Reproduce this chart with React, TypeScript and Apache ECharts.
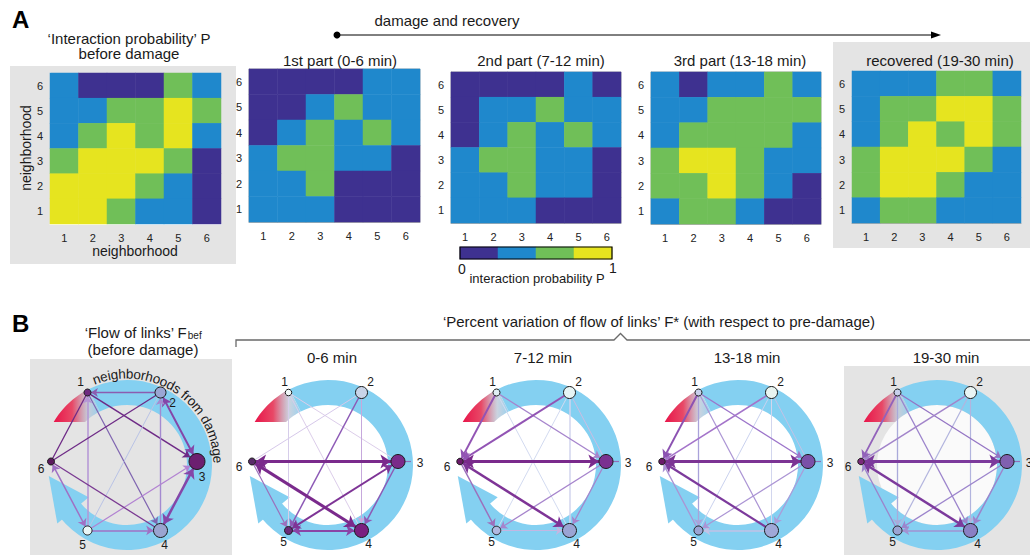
import React, { useEffect, useRef } from 'react';
import * as echarts from 'echarts';

const FONT = '"Liberation Sans", Arial, Helvetica, sans-serif';
const LEVEL_COLORS = ['#3e3190', '#1f88cc', '#70bf58', '#e6e41f'];
const CYAN = '#84d0f1';
const GRAY = '#e4e4e4';

const tickLabels = ['1', '2', '3', '4', '5', '6'];

// interaction probability levels (0..3), rows listed from neighborhood 6 (top) to 1 (bottom)
const pBefore = [
  [1, 0, 0, 0, 2, 1],
  [1, 1, 2, 2, 3, 2],
  [1, 2, 3, 2, 3, 1],
  [2, 3, 3, 3, 2, 0],
  [3, 3, 3, 2, 1, 0],
  [3, 3, 2, 1, 1, 0],
];
const p1st = [
  [0, 0, 0, 0, 1, 1],
  [0, 0, 1, 2, 1, 1],
  [0, 1, 2, 1, 2, 1],
  [1, 2, 2, 1, 1, 0],
  [1, 1, 2, 0, 0, 0],
  [1, 1, 1, 0, 0, 0],
];
const p2nd = [
  [0, 0, 0, 0, 1, 0],
  [0, 1, 1, 2, 1, 1],
  [0, 1, 2, 1, 2, 1],
  [1, 2, 2, 1, 1, 0],
  [1, 1, 2, 1, 1, 0],
  [1, 1, 1, 0, 0, 0],
];
const p3rd = [
  [1, 0, 1, 1, 2, 1],
  [1, 1, 2, 2, 2, 2],
  [1, 2, 2, 2, 2, 1],
  [2, 3, 3, 2, 1, 1],
  [2, 2, 3, 2, 1, 0],
  [1, 2, 2, 1, 0, 0],
];
const pRecovered = [
  [1, 1, 1, 2, 2, 1],
  [1, 2, 2, 3, 3, 2],
  [1, 2, 3, 2, 3, 2],
  [2, 3, 3, 3, 2, 1],
  [2, 3, 3, 2, 1, 1],
  [1, 2, 2, 1, 1, 1],
];
const heatMatrices = [pBefore, p1st, p2nd, p3rd, pRecovered];
const heatTitles = ['', '1st part (0-6 min)', '2nd part (7-12 min)', '3rd part (13-18 min)', 'recovered (19-30 min)'];
const colorbarLevels = [0, 1, 2, 3];

// networks
const nodeNames = ['1', '2', '3', '4', '5', '6'];
const nodeX = [-0.5, 0.5, 1, 0.5, -0.5, -1];
const nodeY = [0.945, 0.945, 0, -0.945, -0.945, 0];
const netTitles = ['', '0-6 min', '7-12 min', '13-18 min', '19-30 min'];

const nodeSizes = [
  [7, 11, 16, 14, 9, 7],
  [6.5, 12, 14, 14, 8, 7],
  [7, 12, 14, 14, 8.5, 6.5],
  [7, 12, 14, 14, 9, 6.5],
  [7, 12, 14, 14, 9, 6.5],
];
const nodeColors = [
  ['#6e2a80', '#9aa6d4', '#6c1f70', '#9aa4d0', '#e8f6f6', '#5c1a5e'],
  ['#f0f8f8', '#c8d4e8', '#7a2a8a', '#7a2080', '#6a2a7a', '#5a2a6a'],
  ['#e0eef4', '#e6f4f4', '#7a3090', '#9aa4d4', '#b0b8e0', '#6a1a6a'],
  ['#c8d0ec', '#e8f4f0', '#7a50a8', '#a0a8d8', '#9aa4d4', '#6a1a6a'],
  ['#c8d0ec', '#e8f4f4', '#8060b0', '#8a80c4', '#9aa4d4', '#7a2a7a'],
];

// [source, target, width, colour, arrows: 0 none, 1 at target, 2 both]
type Edge = [number, number, number, string, number];
const edgesBefore: Edge[] = [
  [2, 1, 1.3, '#8c5cb0', 1],
  [1, 3, 1.5, '#6e2a86', 1],
  [1, 4, 1.2, '#7f64b0', 1],
  [5, 1, 1.5, '#b596d6', 1],
  [6, 1, 1.3, '#6e2a86', 0],
  [2, 3, 2, '#8546a8', 2],
  [4, 2, 1.4, '#a48ad0', 1],
  [5, 2, 1, '#b9c3e6', 0],
  [6, 2, 1.3, '#6e2a86', 0],
  [3, 4, 2.5, '#8546a8', 2],
  [5, 3, 1.2, '#b282d2', 1],
  [6, 4, 1.3, '#7a3a92', 0],
  [5, 4, 1.5, '#a070c4', 1],
  [6, 5, 1.5, '#a070c4', 2],
];
const edges0to6: Edge[] = [
  [2, 6, 1, '#d6c8ea', 0],
  [1, 3, 1, '#dccdea', 0],
  [1, 4, 1, '#dccdea', 0],
  [1, 5, 1, '#d6cdea', 0],
  [2, 4, 1, '#c6a8dc', 1],
  [6, 5, 1.2, '#9c70bc', 1],
  [2, 5, 1.5, '#8d5ab6', 1],
  [3, 4, 1.5, '#8d5ab6', 1],
  [5, 4, 2, '#8a44a6', 2],
  [3, 5, 2, '#7e3496', 2],
  [6, 4, 3, '#7a2a8c', 2],
  [6, 3, 3, '#7a2a8c', 2],
];
const edges7to12: Edge[] = [
  [2, 4, 1.5, '#d2d4ee', 0],
  [2, 5, 1, '#d2daf0', 0],
  [1, 4, 1, '#d2daf0', 0],
  [2, 3, 1, '#cbbde2', 0],
  [5, 4, 1.2, '#c4b6e2', 1],
  [1, 3, 1.3, '#a684cc', 1],
  [3, 5, 1.3, '#a684cc', 1],
  [3, 4, 1.3, '#a684cc', 1],
  [6, 5, 1.5, '#9c70bc', 1],
  [2, 6, 2, '#9254b4', 1],
  [1, 6, 2, '#9254b4', 1],
  [6, 4, 2.5, '#7e3496', 2],
  [6, 3, 3, '#7a2a8c', 2],
];
const edges13to18: Edge[] = [
  [2, 5, 1, '#c9d1ee', 0],
  [2, 4, 1, '#d2d6ee', 0],
  [2, 3, 1, '#c2c2e6', 0],
  [4, 5, 1.5, '#c2c2e6', 1],
  [1, 4, 1.2, '#ab94d4', 0],
  [1, 5, 1.3, '#aaa2da', 1],
  [3, 5, 1.2, '#ab94d4', 1],
  [3, 4, 1.3, '#aa9cda', 1],
  [5, 6, 1.3, '#ab94d4', 1],
  [1, 3, 1.3, '#9c74ca', 1],
  [2, 6, 1.5, '#a474ca', 1],
  [1, 6, 2, '#8c52b2', 1],
  [4, 6, 2.2, '#7c3a9c', 1],
  [6, 3, 3, '#7c3494', 2],
];
const edges19to30: Edge[] = [
  [2, 5, 1.2, '#b2b4de', 0],
  [2, 4, 1.2, '#b2b4de', 1],
  [1, 5, 1.3, '#aaaada', 1],
  [4, 5, 1.5, '#a292d2', 1],
  [3, 5, 1.3, '#9c84cc', 1],
  [3, 4, 1.5, '#9c84cc', 1],
  [5, 6, 1.3, '#9c84cc', 1],
  [1, 3, 1.3, '#9474c4', 1],
  [1, 4, 1.3, '#9c84cc', 1],
  [2, 6, 1.5, '#a284ca', 1],
  [1, 6, 1.8, '#9262ba', 1],
  [6, 4, 2.5, '#7c3a9c', 2],
  [6, 3, 3, '#7c3a9c', 2],
];
const netEdges = [edgesBefore, edges0to6, edges7to12, edges13to18, edges19to30];

// layout (positions only)
const HEAT_GRIDS = [
  { left: 50, top: 73, width: 171, height: 151 },
  { left: 249, top: 69, width: 171, height: 153 },
  { left: 451, top: 72, width: 170, height: 151 },
  { left: 651, top: 72, width: 170, height: 152 },
  { left: 852, top: 71, width: 169, height: 152 },
];
const HEAT_TITLE_X = [129, 340, 541, 740, 940];
const NET_CX = [124, 325, 533, 735, 934];
const NET_CY = 461.5;
const NET_HALF = 73;
const NET_TITLE_X = [143, 332, 543, 747, 946];
const LABEL_OFF_FIRST = [[-7, -11], [12, 10], [5, 15], [4, 15], [-5, 15], [-10, 7]];
const LABEL_OFF = [[-4, -11], [9, -11], [22, 1], [7, 14], [-5, 12], [-13, 5]];

const deg = Math.PI / 180;

function toCells(rows: number[][]) {
  const out: number[][] = [];
  rows.forEach((row, r) => row.forEach((v, c) => out.push([c, 5 - r, v])));
  return out;
}

let measureCtx: CanvasRenderingContext2D | null = null;
function textWidth(s: string, size: number) {
  if (!measureCtx) measureCtx = document.createElement('canvas').getContext('2d');
  measureCtx!.font = `${size}px ${FONT}`;
  return measureCtx!.measureText(s).width;
}

function txt(text: string, x: number, y: number, size: number, extra: any = {}) {
  return {
    type: 'text',
    x,
    y,
    z: 20,
    silent: true,
    ...(extra.rotation !== undefined ? { rotation: extra.rotation } : {}),
    style: {
      text,
      fontSize: size,
      fontFamily: FONT,
      fontWeight: extra.fontWeight || 'normal',
      fill: extra.fill || '#1a1a1a',
      align: extra.align || 'center',
      verticalAlign: extra.verticalAlign || 'middle',
    },
  };
}

function bandElements(cx: number, cy: number, innerFill: string | null) {
  const R = 85;
  const r0 = 60;
  const pt = (r: number, a: number) => [cx + r * Math.cos(a * deg), cy + r * Math.sin(a * deg)];
  const els: any[] = [];
  if (innerFill) els.push({ type: 'circle', z: 1, silent: true, shape: { cx, cy, r: r0 }, style: { fill: innerFill } });
  els.push({
    type: 'sector',
    z: 2,
    silent: true,
    shape: { cx, cy, r0, r: R, startAngle: -117 * deg, endAngle: 141 * deg, clockwise: true },
    style: { fill: CYAN },
  });
  els.push({
    type: 'polygon',
    z: 2,
    silent: true,
    shape: { points: [pt(91, 140), pt(79, 172), pt(50, 140)] },
    style: { fill: CYAN },
  });
  const cut = 43;
  const aOut = Math.atan2(-cut, -Math.sqrt(R * R - cut * cut)) / deg;
  const aIn = Math.atan2(-cut, -Math.sqrt(r0 * r0 - cut * cut)) / deg;
  const pts: number[][] = [];
  for (let a = aOut; a < -117; a += 2) pts.push(pt(R, a));
  pts.push(pt(R, -117));
  for (let a = -117; a > aIn; a -= 2) pts.push(pt(r0, a));
  pts.push(pt(r0, aIn));
  els.push({
    type: 'polygon',
    z: 2,
    silent: true,
    shape: { points: pts },
    style: {
      fill: new echarts.graphic.LinearGradient(0, 0, 1, 0, [
        { offset: 0, color: '#e8154a' },
        { offset: 0.4, color: '#e84866' },
        { offset: 0.75, color: 'rgba(190,200,215,0.8)' },
        { offset: 1, color: 'rgba(140,205,238,0.9)' },
      ]),
    },
  });
  return els;
}

function curvedText(text: string, cx: number, cy: number, r: number, startA: number, endA: number, size: number) {
  const chars = Array.from(text);
  const widths = chars.map((ch) => textWidth(ch, size));
  const total = widths.reduce((a, b) => a + b, 0);
  const scale = ((endA - startA) * deg * r) / total;
  let a = startA * deg;
  const els: any[] = [];
  chars.forEach((ch, i) => {
    const w = widths[i] * scale;
    const ac = a + w / (2 * r);
    a += w / r;
    if (ch === ' ') return;
    els.push({
      type: 'text',
      x: cx + r * Math.cos(ac),
      y: cy + r * Math.sin(ac),
      rotation: -(ac + Math.PI / 2),
      z: 20,
      silent: true,
      style: { text: ch, fontSize: size, fontFamily: FONT, fill: '#1a1a1a', align: 'center', verticalAlign: 'middle' },
    });
  });
  return els;
}

function buildOption() {
  const grid: any[] = [];
  const xAxis: any[] = [];
  const yAxis: any[] = [];
  const series: any[] = [];
  const graphic: any[] = [];

  // background panels
  graphic.push({ type: 'rect', z: 0, silent: true, shape: { x: 10, y: 66, width: 226, height: 198 }, style: { fill: GRAY } });
  graphic.push({ type: 'rect', z: 0, silent: true, shape: { x: 833, y: 42, width: 197, height: 206 }, style: { fill: GRAY } });
  graphic.push({ type: 'rect', z: 0, silent: true, shape: { x: 30, y: 359, width: 202, height: 196 }, style: { fill: GRAY } });
  graphic.push({ type: 'rect', z: 0, silent: true, shape: { x: 844, y: 366, width: 186, height: 189 }, style: { fill: GRAY } });

  // heatmaps
  HEAT_GRIDS.forEach((g, i) => {
    grid.push({ ...g, show: true, borderColor: i === 0 ? '#ffffff' : '#b0b0b0', borderWidth: 1, backgroundColor: 'transparent' });
    const axisCommon = {
      type: 'category',
      gridIndex: i,
      data: tickLabels,
      axisTick: { show: true, inside: true, alignWithLabel: true, length: 3, lineStyle: { color: '#555', width: 0.8 } },
      axisLine: { show: true, lineStyle: { color: i === 0 ? '#ffffff' : '#b0b0b0', width: 1 } },
      splitLine: { show: false },
    };
    xAxis.push({ ...axisCommon, axisLabel: { fontSize: 11, color: '#222', margin: 8, fontFamily: FONT } });
    yAxis.push({ ...axisCommon, axisLabel: { fontSize: 11, color: '#222', margin: 7, fontFamily: FONT } });
    series.push({
      type: 'heatmap',
      xAxisIndex: i,
      yAxisIndex: i,
      data: toCells(heatMatrices[i]),
      itemStyle: { borderWidth: 0 },
      emphasis: { disabled: true },
      silent: true,
    });
    if (heatTitles[i]) graphic.push(txt(heatTitles[i], HEAT_TITLE_X[i], 60, 15));
  });

  // colour bar
  grid.push({ left: 460, top: 247, width: 152, height: 12, show: false });
  xAxis.push({ type: 'category', gridIndex: 5, data: colorbarLevels.map(String), show: false });
  yAxis.push({ type: 'category', gridIndex: 5, data: ['0'], show: false });
  series.push({
    type: 'heatmap',
    xAxisIndex: 5,
    yAxisIndex: 5,
    data: colorbarLevels.map((v, i) => [i, 0, v]),
    itemStyle: { borderWidth: 0 },
    emphasis: { disabled: true },
    silent: true,
  });
  graphic.push({ type: 'rect', z: 30, silent: true, shape: { x: 460, y: 247, width: 152, height: 12 }, style: { fill: 'none', stroke: '#000', lineWidth: 1.2 } });
  graphic.push(txt('0', 462, 269, 14));
  graphic.push(txt('1', 613, 268, 14));
  graphic.push(txt('interaction probability P', 537, 278, 13));

  // networks
  netEdges.forEach((edges, k) => {
    const gi = 6 + k;
    const cx = NET_CX[k];
    grid.push({ left: cx - NET_HALF, top: NET_CY - NET_HALF, width: NET_HALF * 2, height: NET_HALF * 2, show: false });
    xAxis.push({ type: 'value', gridIndex: gi, min: -1, max: 1, show: false });
    yAxis.push({ type: 'value', gridIndex: gi, min: -1, max: 1, show: false });
    const offs = k === 0 ? LABEL_OFF_FIRST : LABEL_OFF;
    series.push({
      type: 'graph',
      coordinateSystem: 'cartesian2d',
      xAxisIndex: gi,
      yAxisIndex: gi,
      z: 5,
      silent: true,
      emphasis: { disabled: true },
      data: nodeNames.map((n, i) => ({
        name: n,
        value: [nodeX[i], nodeY[i]],
        symbol: 'circle',
        symbolSize: nodeSizes[k][i],
        itemStyle: { color: nodeColors[k][i], borderColor: '#1a1a1a', borderWidth: 1 },
        label: { show: true, position: 'inside', offset: offs[i], color: '#1a1a1a', fontSize: 12, fontFamily: FONT },
      })),
      links: edges.map(([s, t, w, c, m]) => ({
        source: String(s),
        target: String(t),
        symbol: m === 2 ? ['arrow', 'arrow'] : m === 1 ? ['none', 'arrow'] : ['none', 'none'],
        symbolSize: 4 + w * 2.2,
        lineStyle: { width: w, color: c, opacity: 1, curveness: 0 },
      })),
      lineStyle: { opacity: 1 },
    });
    const bx = cx + 3;
    const by = NET_CY + 3.5;
    graphic.push(...bandElements(bx, by, k === 4 ? 'rgba(255,255,255,0.8)' : null));
    if (k > 0) {
      graphic.push({
        type: 'line',
        z: 3,
        silent: true,
        shape: { x1: cx + NET_HALF + 6, y1: NET_CY, x2: cx + NET_HALF + 13, y2: NET_CY },
        style: { stroke: '#9070b8', lineWidth: 1.2 },
      });
      graphic.push(txt(netTitles[k], NET_TITLE_X[k], 357, 15));
    }
    if (k === 0) {
      graphic.push(...curvedText('neighborhoods from damage', bx, by, 91, -112, -1, 13.5));
    }
  });

  // panel letters and headers
  graphic.push(txt('A', 12, 19, 24, { fontWeight: 'bold', align: 'left', fill: '#000' }));
  graphic.push(txt('B', 12, 323, 24, { fontWeight: 'bold', align: 'left', fill: '#000' }));
  graphic.push(txt('\u2018Interaction probability\u2019 P', 129, 38.5, 15));
  graphic.push(txt('before damage', 129, 53.5, 15));
  graphic.push(txt('neighborhood', 135, 251, 14));
  graphic.push(txt('neighborhood', 26, 148, 14, { rotation: Math.PI / 2 }));

  // damage and recovery arrow
  graphic.push(txt('damage and recovery', 447, 20, 15));
  graphic.push({ type: 'circle', z: 10, silent: true, shape: { cx: 337, cy: 35, r: 3.5 }, style: { fill: '#000' } });
  graphic.push({ type: 'line', z: 10, silent: true, shape: { x1: 337, y1: 35, x2: 934, y2: 35 }, style: { stroke: '#000', lineWidth: 1 } });
  graphic.push({ type: 'polygon', z: 10, silent: true, shape: { points: [[941, 35], [931, 31.5], [931, 38.5]] }, style: { fill: '#000' } });

  // B headers
  const fMain = '\u2018Flow of links\u2019 F';
  const wMain = textWidth(fMain, 15);
  const wSub = textWidth('bef', 10);
  const fStart = 143 - (wMain + wSub) / 2;
  graphic.push(txt(fMain, fStart, 332, 15, { align: 'left' }));
  graphic.push(txt('bef', fStart + wMain + 0.5, 335.5, 10, { align: 'left' }));
  graphic.push(txt('(before damage)', 143, 349, 15));
  graphic.push(txt('\u2018Percent variation of flow of links\u2019 F* (with respect to pre-damage)', 659, 321, 15));
  graphic.push({
    type: 'polyline',
    z: 10,
    silent: true,
    shape: { points: [[236, 347], [236, 340], [614, 340], [620.5, 333.5], [627, 340], [1030, 340]] },
    style: { stroke: '#6a6a6a', lineWidth: 1.3, fill: 'none' },
  });

  return {
    animation: false,
    backgroundColor: '#ffffff',
    textStyle: { fontFamily: FONT },
    grid,
    xAxis,
    yAxis,
    visualMap: {
      type: 'piecewise',
      show: false,
      dimension: 2,
      seriesIndex: [0, 1, 2, 3, 4, 5],
      pieces: LEVEL_COLORS.map((c, i) => ({ value: i, color: c })),
    },
    series,
    graphic,
  };
}

export default function App() {
  const ref = useRef<HTMLDivElement>(null);
  useEffect(() => {
    const chart = echarts.init(ref.current!, null, { renderer: 'svg' });
    chart.setOption(buildOption() as any);
    return () => chart.dispose();
  }, []);
  return (
    <div
      ref={ref}
      style={{ position: 'fixed', left: 0, top: 0, width: 1030, height: 555, background: '#fff' }}
    />
  );
}
